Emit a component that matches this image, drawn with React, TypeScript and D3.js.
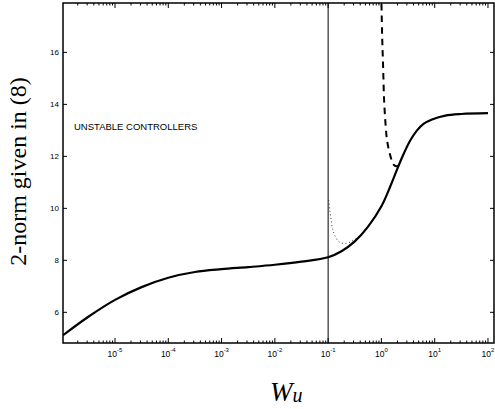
import React from "react";
import * as d3 from "d3";

// Solid curve: 2-norm vs Wu
const solidWu = [1.06e-6, 3.16e-6, 1e-5, 3.16e-5, 1e-4, 3.16e-4, 1e-3, 3.16e-3, 1e-2, 3.16e-2, 0.1, 0.178, 0.316, 0.562, 1.0, 1.47, 1.97, 2.62, 3.49, 4.66, 6.17, 8.91, 15.8, 31.6, 100];
const solidVal = [5.12, 5.83, 6.48, 6.97, 7.33, 7.55, 7.66, 7.74, 7.83, 7.95, 8.12, 8.35, 8.73, 9.3, 10.08, 10.85, 11.5, 12.1, 12.62, 13.0, 13.25, 13.42, 13.57, 13.63, 13.66];

// Dashed curve
const dashWu = [0.995, 1.03, 1.076, 1.122, 1.19, 1.28, 1.48, 1.7, 2.0, 2.34];
const dashVal = [18.3, 16.7, 15.45, 14.2, 13.3, 12.6, 12.0, 11.68, 11.62, 11.85];

// Dotted curve
const dotWu = [0.103, 0.1076, 0.1143, 0.1225, 0.1377, 0.1585, 0.1968, 0.2443, 0.3027, 0.3758, 0.4667];
const dotVal = [10.32, 9.93, 9.55, 9.17, 8.9, 8.72, 8.65, 8.68, 8.78, 8.9, 9.1];

const xTickExp = [-5, -4, -3, -2, -1, 0, 1, 2];
const yTicks = [6, 8, 10, 12, 14, 16];
const boundaryWu = 0.1;
const annotation = "UNSTABLE CONTROLLERS";
const yLabel = "2-norm given in (8)";

const W = 495, H = 409;
const L = 63, R = 494, T = 3, B = 343;

export default function App() {
  const x = d3.scaleLog().domain([Math.pow(10, -5.976), Math.pow(10, 2.113)]).range([L, R]);
  const y = d3.scaleLinear().domain([4.82, 17.9]).range([B, T]);
  const line = d3.line<[number, number]>().x(d => x(d[0])).y(d => y(d[1])).curve(d3.curveCatmullRom.alpha(0.5));
  const mk = (a: number[], b: number[]) => a.map((v, i) => [v, b[i]] as [number, number]);

  const [d0, d1] = x.domain();
  const minor: number[] = [];
  for (let e = -7; e <= 3; e++) {
    for (let k = 2; k <= 9; k++) {
      const v = k * Math.pow(10, e);
      if (v > d0 && v < d1) minor.push(v);
    }
  }
  const font = "'Liberation Sans', Arial, Helvetica, sans-serif";
  return (
    <svg width={W} height={H} style={{ position: "absolute", left: 0, top: 0, background: "#fff" }}>
      <defs>
        <clipPath id="plot"><rect x={L} y={T} width={R - L} height={B - T} /></clipPath>
      </defs>
      <rect x={0} y={0} width={W} height={H} fill="#fff" />
      {/* ticks */}
      <g stroke="#000" strokeWidth={1}>
        {xTickExp.map(e => {
          const px = x(Math.pow(10, e));
          return (
            <g key={"xt" + e}>
              <line x1={px} x2={px} y1={B} y2={B - 5} />
              <line x1={px} x2={px} y1={T} y2={T + 5} />
            </g>
          );
        })}
        {minor.map((v, i) => {
          const px = x(v);
          return (
            <g key={"mn" + i}>
              <line x1={px} x2={px} y1={B} y2={B - 2.5} />
              <line x1={px} x2={px} y1={T} y2={T + 2.5} />
            </g>
          );
        })}
        {yTicks.map(t => (
          <g key={"yt" + t}>
            <line x1={L} x2={L + 4} y1={y(t)} y2={y(t)} />
            <line x1={R} x2={R - 4} y1={y(t)} y2={y(t)} />
          </g>
        ))}
      </g>
      {/* tick labels */}
      <g fontFamily={font} fill="#000">
        {yTicks.map(t => (
          <text key={"yl" + t} x={L - 4} y={y(t)} fontSize={8} textAnchor="end" dominantBaseline="central">{t}</text>
        ))}
        {xTickExp.map(e => (
          <text key={"xl" + e} x={x(Math.pow(10, e))} y={357.3} textAnchor="middle">
            <tspan fontSize={8.5}>10</tspan>
            <tspan fontSize={6} dy={-5}>{e}</tspan>
          </text>
        ))}
      </g>
      {/* boundary line */}
      <line x1={x(boundaryWu)} x2={x(boundaryWu)} y1={T} y2={B} stroke="#000" strokeWidth={1} />
      {/* curves */}
      <g clipPath="url(#plot)" fill="none">
        <path d={line(mk(dotWu, dotVal)) || ""} stroke="#333" strokeWidth={1} strokeDasharray="1,2.6" />
        <path d={line(mk(dashWu, dashVal)) || ""} stroke="#000" strokeWidth={2} strokeDasharray="6.5,5" />
        <path d={line(mk(solidWu, solidVal)) || ""} stroke="#000" strokeWidth={2.2} />
      </g>
      {/* box */}
      <rect x={L} y={T} width={R - L} height={B - T} fill="none" stroke="#000" strokeWidth={1.5} />
      {/* annotation */}
      <text x={74} y={130} fontFamily={font} fontSize={9.5} fill="#000">{annotation}</text>
      {/* axis labels */}
      <text x={270} y={401} fontFamily="'Liberation Serif', 'Times New Roman', serif" fill="#000">
        <tspan fontSize={27} fontStyle="italic">W</tspan>
        <tspan fontSize={20} fontStyle="italic" dy={1}>u</tspan>
      </text>
      <text transform={`translate(26,171.5) rotate(-90)`} textAnchor="middle" fontFamily="'Liberation Serif', 'Times New Roman', serif" fontSize={24} fill="#000">{yLabel}</text>
    </svg>
  );
}
